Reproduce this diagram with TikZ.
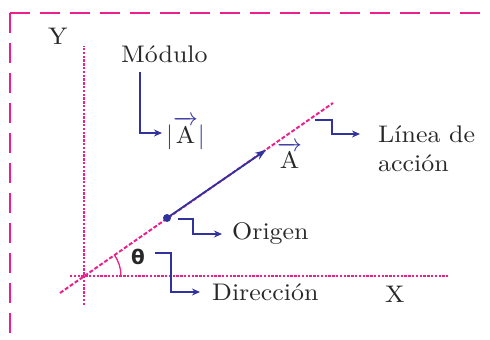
\documentclass[tikz,border=0pt]{standalone}
\usepackage{amsmath,amssymb}
\usepackage{fontspec}
\setmainfont{lmroman10-regular}[Extension=.otf,FakeStretch=1.08]
\usetikzlibrary{arrows.meta}
\newfontfamily\simbolo{DejaVu Sans}
\definecolor{rosa}{RGB}{236,32,140}
\definecolor{azul}{RGB}{50,50,158}
\definecolor{texto}{RGB}{40,40,40}
\newcommand{\vecA}{\ensuremath{\textcolor{azul}{\overrightarrow{\textcolor{texto}{\text{A}}}}}}

\begin{document}
\begin{tikzpicture}[x=1pt,y=1pt,
  borde/.style={rosa,line width=2pt,dash pattern=on 20pt off 10pt},
  eje/.style={rosa,line width=2.6pt,dash pattern=on 2.4pt off 1.4pt},
  accion/.style={rosa,line width=2pt,dash pattern=on 4pt off 2pt},
  vector/.style={azul,line width=1.8pt,-{Stealth[length=11pt,width=8pt]}},
  guia/.style={azul,line width=1.4pt,-{Stealth[length=8pt,width=7pt]}},
  txt/.style={text=texto,font=\fontsize{24}{29}\selectfont,inner sep=0pt}]
\useasboundingbox (0,0) rectangle (490,340);
\coordinate (C) at (10,327);
\draw[borde] (C)--(490,327);
\draw[borde] (C)--(10,0);
\coordinate (O) at (84,64);
\coordinate (L1) at (60,47);
\coordinate (L2) at (333,237);
\coordinate (P) at (167,122);
\coordinate (T) at (266,190);
\draw[eje] (84,35)--(84,294);
\draw[eje] (70,64)--(448,64);
\draw[accion] (L1)--(L2);
\draw[rosa,line width=1.3pt] ([xshift=37pt]O) arc[start angle=0,end angle=34.8,radius=37pt];
\draw[vector] (P)--(T);
\fill[azul] (P) circle (4pt);
\node[txt,anchor=base west] (ejeY) at (48,295) {Y};
\node[txt,anchor=base west] (ejeX) at (385,37) {X};
\node[txt,anchor=base west] (modulo) at (121,277) {Módulo};
\node[txt,anchor=west] (modval) at (166,207) {\textcolor{azul}{$|$}\vecA\textcolor{azul}{$|$}};
\node[txt,anchor=base west] (etiqA) at (277,171) {\vecA};
\node[txt,anchor=west] (origen) at (232,106) {Origen};
\node[text=texto,font=\simbolo\bfseries\fontsize{20}{24}\selectfont,inner sep=0pt] (theta) at (138,83) {θ};
\node[txt,anchor=west] (direc) at (212,48) {Dirección};
\node[txt,anchor=west] (linea) at (378,206) {Línea de};
\node[txt,anchor=base west] (accion) at ([yshift=-29pt]linea.base west) {acción};
\coordinate (modA) at (140,268);
\coordinate (oriA) at (178,121);
\coordinate (thA) at (155,87);
\coordinate (linA) at (315,220);
\draw[guia,shorten >=4pt] (modA) |- (modval.west);
\draw[guia,shorten >=10pt] (oriA) -- ++(15,0) |- (origen.west);
\draw[guia,shorten >=12pt] (thA) -- ++(16,0) |- (direc.west);
\draw[guia,shorten >=18pt] (linA) -- ++(17,0) |- (linea.west);
\end{tikzpicture}
\end{document}
